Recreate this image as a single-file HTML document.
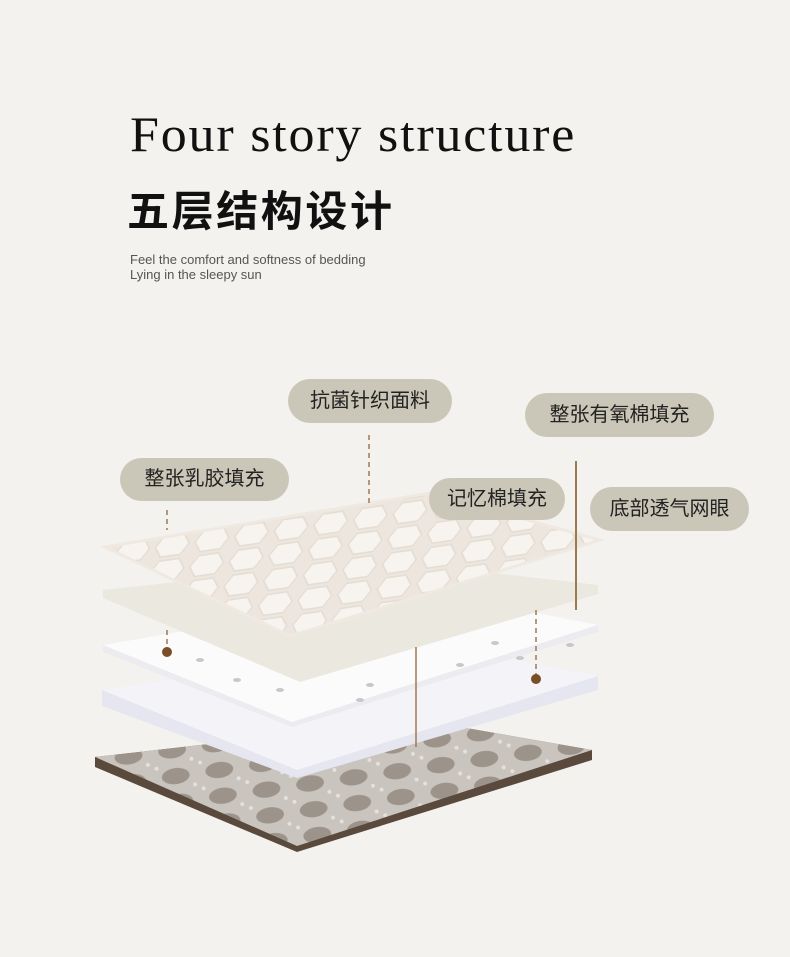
<!DOCTYPE html>
<html><head><meta charset="utf-8"><style>
body{margin:0;background:#f4f2ee;}
.w{position:relative;width:790px;height:957px;overflow:hidden;background:#f4f2ee;font-family:"Liberation Sans","Noto Sans CJK SC",sans-serif;}
.t1{position:absolute;left:130px;top:106px;font-family:"Liberation Serif","Noto Serif CJK SC",serif;font-weight:normal;font-size:52px;letter-spacing:1.8px;color:#111;line-height:60px;transform:scaleY(0.95);}
.t2{position:absolute;left:127px;top:186px;font-size:42px;font-weight:bold;color:#111;line-height:52px;letter-spacing:2.6px;}
.t3{position:absolute;left:130px;top:252px;font-size:13px;color:#555;line-height:15px;}
.p{position:absolute;background:#cbc7b8;border-radius:22px;color:#222;font-size:20px;text-align:center;}
</style></head><body><div class="w">
<div class="t1">Four story structure</div>
<div class="t2">五层结构设计</div>
<div class="t3">Feel the comfort and softness of bedding<br>Lying in the sleepy sun</div>
<svg width="790" height="957" style="position:absolute;left:0;top:0">
<defs>
<pattern id="hx" width="40" height="24" patternUnits="userSpaceOnUse" patternTransform="rotate(-8) skewX(-20)">
<rect width="40" height="24" fill="#ece6de"/>
<path d="M3 12 L10 2 H30 L37 12 L30 22 H10 Z" fill="#f7f4ef" stroke="#e4ddd3" stroke-width="1.5"/>
</pattern>
<pattern id="mesh" width="44" height="26" patternUnits="userSpaceOnUse" patternTransform="rotate(-8)">
<rect width="44" height="26" fill="#c9c4bd"/>
<ellipse cx="22" cy="13" rx="14" ry="8" fill="#9c948b"/>
<circle cx="4" cy="3" r="2" fill="#e4e0da"/>
<circle cx="40" cy="24" r="2" fill="#e4e0da"/>
</pattern>
</defs>
<polygon points="95,757 420,720 592,750 592,760 297,852 95,767" fill="#5a4a3e"/>
<polygon points="95,757 420,720 592,750 297,846" fill="url(#mesh)"/>
<polygon points="102,690 420,640 598,676 598,690 297,778 102,706" fill="#e6e6f0"/>
<polygon points="102,690 420,640 598,676 297,770" fill="#f3f3f8"/>
<polygon points="103,645 420,590 598,625 598,632 292,727 103,652" fill="#ececf0"/>
<polygon points="103,645 420,590 598,625 292,722" fill="#fbfbfb"/>
<g fill="#c8c8cc"><ellipse cx="200" cy="660" rx="4" ry="2"/><ellipse cx="237" cy="680" rx="4" ry="2"/><ellipse cx="280" cy="690" rx="4" ry="2"/><ellipse cx="310" cy="665" rx="4" ry="2"/><ellipse cx="360" cy="700" rx="4" ry="2"/><ellipse cx="370" cy="685" rx="4" ry="2"/><ellipse cx="460" cy="665" rx="4" ry="2"/><ellipse cx="520" cy="658" rx="4" ry="2"/><ellipse cx="495" cy="643" rx="4" ry="2"/><ellipse cx="570" cy="645" rx="4" ry="2"/></g>
<polygon points="103,590 380,560 598,585 598,594 300,682 103,598" fill="#ebe8e0"/>
<polygon points="105,547 430,493 600,540 290,636" fill="#f3efe9"/>
<polygon points="105,547 430,493 600,540 290,636" fill="url(#hx)"/>
<polygon points="105,547 430,493 600,540 290,636" fill="none" stroke="#efe9e1" stroke-width="3"/>
<line x1="369" y1="435" x2="369" y2="503" stroke="#a07850" stroke-width="1.5" stroke-dasharray="5,4"/>
<line x1="576" y1="461" x2="576" y2="610" stroke="#a07850" stroke-width="2"/>
<line x1="167" y1="510" x2="167" y2="530" stroke="#a07850" stroke-width="1.5" stroke-dasharray="5,4"/>
<line x1="167" y1="630" x2="167" y2="650" stroke="#a07850" stroke-width="1.5" stroke-dasharray="5,4"/>
<circle cx="167" cy="652" r="5" fill="#7a4e26"/>
<line x1="536" y1="610" x2="536" y2="676" stroke="#a07850" stroke-width="1.5" stroke-dasharray="5,4"/>
<circle cx="536" cy="679" r="5" fill="#7a4e26"/>
<line x1="416" y1="647" x2="416" y2="747" stroke="#a07850" stroke-width="1.5"/>
</svg>
<div class="p" style="left:288px;top:379px;width:164px;height:44px;line-height:44px">抗菌针织面料</div>
<div class="p" style="left:525px;top:393px;width:189px;height:44px;line-height:44px">整张有氧棉填充</div>
<div class="p" style="left:120px;top:458px;width:169px;height:43px;line-height:43px">整张乳胶填充</div>
<div class="p" style="left:429px;top:478px;width:136px;height:42px;line-height:42px">记忆棉填充</div>
<div class="p" style="left:590px;top:487px;width:159px;height:44px;line-height:44px">底部透气网眼</div>
</div></body></html>
